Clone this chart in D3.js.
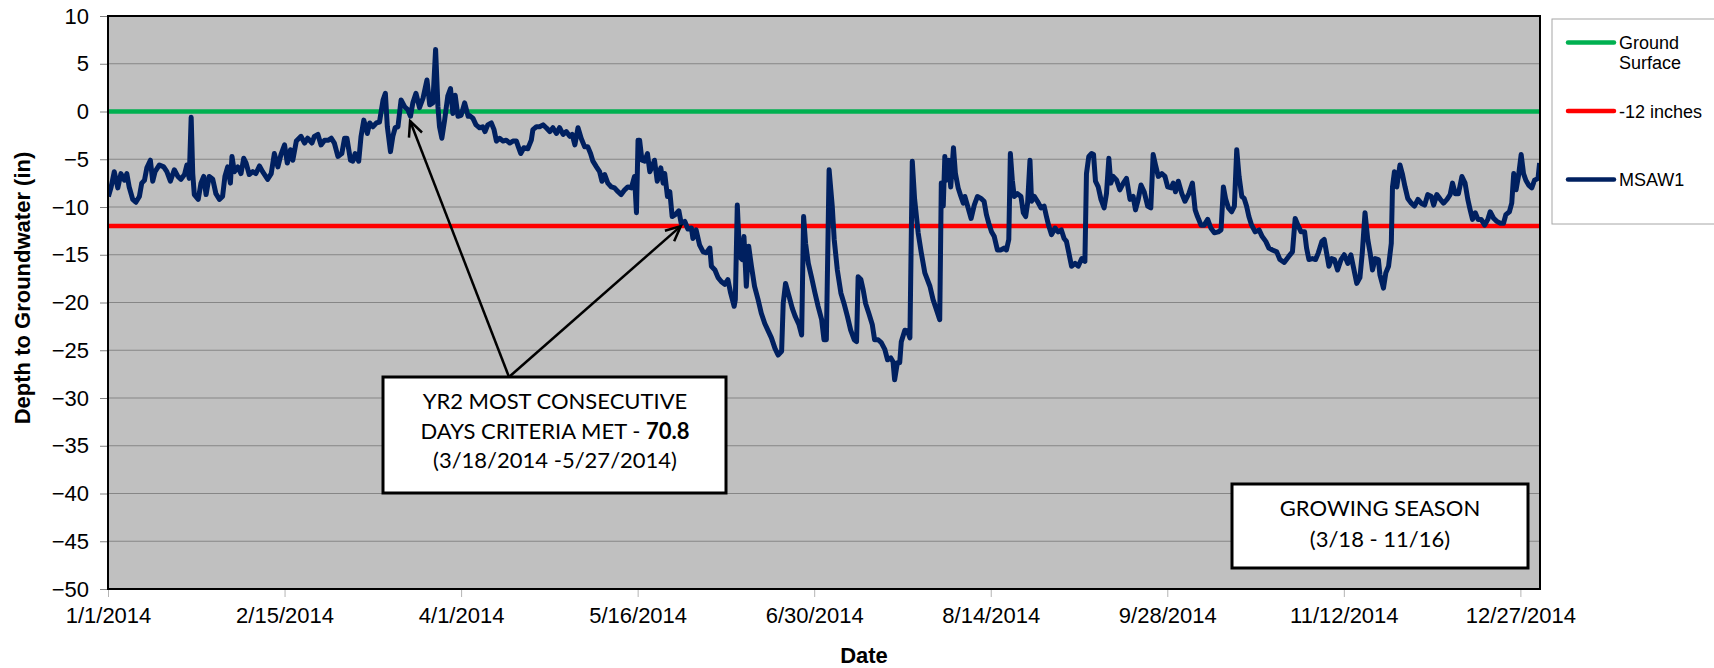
<!DOCTYPE html>
<html>
<head>
<meta charset="utf-8">
<script src="https://cdnjs.cloudflare.com/ajax/libs/d3/7.8.5/d3.min.js"></script>
<style>
	body { margin: 0; background: #fff; }
	svg { display: block; font-family: "Liberation Sans", Arial, sans-serif; }
	.axis text { font-size: 22px; fill: #000; }
	.axis .domain { display: none; }
	.y.axis line { stroke: #808080; }
	.x.axis line { stroke: #b4b4b4; }
	.grid line { stroke: #868686; stroke-width: 1; }
	.title { font-size: 22px; font-weight: bold; }
	.note text { font-family: Lato, "Open Sans", sans-serif; font-size: 22px; fill: #000; }
	.legend text { font-size: 18px; fill: #000; }
</style>
</head>
<body>
<div id="chart"></div>
<script>
// tick labels
var xTickLabels = ["1/1/2014", "2/15/2014", "4/1/2014", "5/16/2014", "6/30/2014",
	"8/14/2014", "9/28/2014", "11/12/2014", "12/27/2014"];
var yTicks = [10, 5, 0, -5, -10, -15, -20, -25, -30, -35, -40, -45, -50];

// reference levels (inches)
var groundSurface = 0;
var criteriaLevel = -12;
var seriesNames = ["Ground Surface", "-12 inches", "MSAW1"];

// MSAW1 readings: days after 1/1/2014 and depth to groundwater (in)
var readingDay = [
	0.1, 0.8, 1.6, 2.5, 3.3, 4.2, 4.8, 5.4, 6.3, 7.1, 8.0, 8.6, 9.3, 9.9, 10.8, 11.4, 12.0, 13.1, 14.2, 15.0,
	15.9, 16.9, 17.8, 18.6, 19.5, 20.1, 20.7, 21.2, 21.6, 22.0, 23.0, 23.7, 24.4, 25.0, 25.8, 26.7, 27.5, 28.4, 29.2, 29.8,
	30.5, 31.2, 31.6, 32.2, 33.1, 33.9, 34.6, 35.2, 36.0, 36.9, 37.7, 38.6, 39.4, 40.7, 41.6, 42.4, 43.3, 44.1, 45.0, 45.7,
	46.5, 47.1, 48.0, 49.2, 50.1, 50.9, 52.0, 52.6, 53.5, 54.3, 55.2, 56.2, 56.9, 57.7, 58.6, 59.6, 60.3, 60.9, 61.8, 62.4,
	63.0, 63.9, 64.5, 65.2, 66.1, 66.7, 67.5, 68.4, 69.2, 70.1, 70.7, 71.2, 72.0, 72.6, 73.2, 73.9, 74.7, 75.6, 76.4, 77.1,
	77.7, 78.5, 79.4, 80.3, 81.3, 82.0, 82.8, 83.5, 84.1, 84.5, 85.1, 85.8, 86.6, 87.3, 87.9, 88.5, 89.2, 90.0, 90.9, 91.8,
	92.1, 93.0, 93.8, 94.7, 95.5, 96.1, 96.8, 97.7, 98.4, 99.0, 99.8, 100.7, 101.5, 102.4, 103.2, 104.1, 104.6, 105.2, 106.0, 107.0,
	107.9, 108.3, 109.2, 110.0, 110.9, 111.7, 112.6, 113.4, 114.3, 115.1, 116.0, 116.8, 117.7, 118.3, 119.0, 119.8, 120.6, 121.5, 122.3, 123.0,
	123.6, 124.5, 125.3, 125.9, 126.6, 127.4, 128.3, 129.1, 130.0, 130.8, 131.7, 132.5, 133.4, 134.2, 134.7, 135.1, 135.5, 136.1, 136.8, 137.5,
	138.1, 138.7, 139.3, 140.0, 140.9, 141.5, 141.9, 142.6, 143.2, 143.8, 144.6, 145.5, 146.1, 147.0, 147.8, 148.7, 149.1, 149.9, 150.8, 151.7,
	152.5, 153.4, 153.8, 154.7, 155.5, 156.3, 157.2, 158.0, 158.7, 159.6, 159.9, 160.4, 161.0, 161.6, 162.1, 162.7, 163.3, 164.0, 164.8, 165.7,
	166.5, 167.4, 168.3, 169.1, 170.0, 170.8, 171.7, 172.1, 172.7, 173.5, 174.4, 175.2, 176.1, 176.8, 177.3, 177.8, 178.5, 179.3, 180.2, 181.0,
	181.9, 182.5, 183.1, 183.8, 184.6, 185.1, 185.9, 186.8, 187.6, 188.5, 189.3, 190.2, 190.8, 191.2, 191.9, 192.5, 193.1, 193.9, 194.8, 195.4,
	196.3, 197.1, 198.0, 198.7, 199.5, 200.1, 200.5, 201.2, 201.8, 202.2, 203.1, 203.8, 204.4, 205.0, 205.6, 206.5, 207.3, 208.2, 209.5, 210.3,
	211.2, 212.0, 212.4, 212.9, 213.3, 213.7, 214.3, 214.8, 215.5, 216.0, 216.7, 217.4, 218.0, 218.4, 219.1, 220.0, 220.8, 221.6, 222.5, 223.3,
	223.9, 224.5, 225.2, 225.9, 226.7, 227.6, 228.4, 229.0, 229.6, 230.0, 230.5, 231.0, 231.8, 232.7, 233.3, 233.9, 234.4, 235.0, 235.4, 236.1,
	236.9, 237.8, 238.6, 239.2, 239.8, 240.5, 241.4, 242.2, 243.0, 243.7, 244.3, 244.9, 245.6, 246.5, 247.3, 248.2, 249.0, 249.4, 250.0, 250.7,
	251.2, 251.7, 252.4, 253.1, 253.9, 254.5, 255.1, 255.6, 256.2, 257.1, 257.9, 258.8, 259.6, 260.5, 261.3, 261.9, 262.6, 263.3, 264.1, 265.0,
	265.8, 266.4, 267.0, 267.7, 268.6, 269.4, 270.1, 271.0, 271.5, 272.1, 272.8, 273.7, 274.5, 275.5, 276.4, 277.1, 277.7, 278.6, 279.4, 280.3,
	281.1, 282.0, 283.0, 283.7, 284.3, 284.9, 285.6, 286.4, 287.1, 287.7, 288.3, 289.0, 289.6, 290.2, 290.8, 291.5, 292.4, 293.4, 294.2, 295.1,
	295.9, 296.8, 297.9, 298.7, 299.8, 300.9, 301.9, 302.6, 303.4, 304.1, 305.0, 305.5, 306.1, 307.0, 307.8, 308.5, 309.4, 310.0, 310.6, 311.2,
	311.9, 312.6, 313.4, 314.3, 315.1, 316.0, 316.8, 317.4, 318.3, 319.1, 319.7, 320.4, 321.1, 321.7, 322.3, 323.0, 323.8, 324.2, 325.1, 325.7,
	326.4, 327.1, 327.4, 327.9, 328.5, 329.3, 329.9, 330.6, 331.3, 332.2, 333.0, 333.9, 334.7, 335.6, 336.4, 337.3, 337.9, 338.7, 339.6, 340.4,
	341.3, 342.1, 342.7, 343.4, 344.2, 345.1, 345.9, 346.6, 347.2, 347.8, 348.5, 349.2, 350.0, 350.9, 351.7, 352.3, 353.2, 354.0, 354.9, 355.7,
	356.3, 357.2, 357.8, 358.3, 358.9, 359.5, 360.2, 360.8, 361.4, 362.1, 362.9, 363.6, 364.5, 364.9
];
var depthIn = [
	-8.9, -7.9, -6.3, -8.0, -6.5, -7.2, -6.5, -7.9, -9.2, -9.5, -8.9, -7.5, -7.2, -5.9, -5.1, -7.3, -6.3, -5.6, -5.8, -6.3,
	-7.3, -6.1, -6.8, -7.1, -6.6, -5.6, -7.0, -0.6, -6.5, -8.7, -9.2, -7.5, -6.8, -8.7, -6.8, -7.1, -8.6, -9.2, -8.9, -6.8,
	-5.8, -7.5, -4.7, -6.3, -5.8, -6.5, -4.9, -5.4, -6.6, -6.3, -6.5, -5.7, -6.3, -7.1, -6.5, -4.4, -5.8, -4.5, -3.5, -5.4,
	-4.0, -5.1, -3.1, -2.6, -3.3, -2.8, -3.3, -2.6, -2.4, -3.5, -3.0, -3.0, -2.8, -3.3, -4.7, -4.4, -2.8, -2.8, -5.1, -5.2,
	-4.4, -5.2, -2.6, -0.9, -2.3, -1.2, -1.6, -1.2, -1.1, 1.2, 1.9, -1.6, -4.2, -2.6, -1.7, -1.6, 1.2, 0.5, 0.2, -0.5,
	0.9, 1.9, 0.4, 1.4, 3.3, 0.7, 0.9, 6.5, 0.5, -1.6, -2.8, -0.9, 1.6, 2.4, -0.2, 1.7, -0.5, -0.4, 0.9, -0.5,
	-0.4, -0.7, -1.4, -1.7, -1.6, -2.1, -1.4, -1.2, -1.9, -3.1, -2.8, -3.1, -3.0, -3.3, -3.1, -3.1, -3.7, -4.4, -3.8, -3.9,
	-3.0, -1.9, -1.6, -1.6, -1.4, -1.7, -2.1, -1.7, -2.3, -1.7, -2.4, -2.1, -2.6, -2.4, -3.5, -1.7, -2.8, -3.7, -3.7, -4.4,
	-5.2, -5.8, -6.3, -7.3, -6.6, -7.5, -7.9, -8.0, -8.4, -8.7, -8.2, -7.9, -8.0, -6.8, -10.6, -3.0, -3.0, -5.1, -5.2, -4.4,
	-6.3, -5.8, -5.1, -7.3, -5.9, -7.5, -6.5, -8.9, -8.4, -11.0, -10.8, -10.4, -11.7, -11.5, -12.3, -12.2, -13.3, -12.4, -14.0, -14.7,
	-14.8, -14.3, -16.2, -16.6, -17.4, -17.8, -18.1, -17.6, -19.0, -20.4, -19.7, -9.8, -15.2, -15.5, -13.1, -18.3, -14.1, -16.2, -18.3, -19.7,
	-21.1, -22.2, -23.0, -23.7, -24.8, -25.5, -25.1, -20.1, -18.0, -19.2, -20.6, -21.5, -22.3, -23.4, -11.0, -13.8, -15.9, -17.3, -19.0, -20.4,
	-21.8, -23.9, -23.9, -6.1, -9.9, -13.4, -16.6, -19.0, -20.1, -21.5, -22.9, -23.9, -24.1, -17.3, -17.6, -18.7, -20.1, -21.1, -22.3, -23.9,
	-23.9, -24.2, -24.9, -26.0, -25.8, -26.2, -28.1, -26.3, -26.3, -24.1, -22.9, -23.0, -23.7, -5.2, -9.2, -12.7, -14.8, -16.9, -18.3, -19.7,
	-20.8, -21.8, -7.5, -9.9, -4.7, -7.2, -5.1, -7.9, -3.8, -6.5, -8.0, -8.9, -9.6, -8.9, -9.9, -11.2, -9.8, -8.9, -9.1, -9.4,
	-10.8, -11.7, -12.6, -13.1, -14.5, -14.5, -14.3, -14.5, -13.4, -4.4, -7.2, -8.9, -8.6, -8.9, -10.6, -11.0, -9.6, -5.1, -9.4, -8.9,
	-9.4, -10.1, -9.9, -11.0, -12.0, -12.9, -12.2, -12.6, -12.4, -13.3, -13.6, -14.8, -16.2, -15.9, -16.2, -15.4, -15.7, -6.5, -4.7, -4.4,
	-4.5, -7.3, -7.9, -9.2, -10.1, -8.6, -4.9, -7.5, -6.8, -7.2, -8.2, -7.5, -7.0, -9.2, -8.9, -10.3, -9.2, -7.7, -8.4, -9.9,
	-10.1, -4.5, -5.6, -6.8, -6.5, -6.8, -7.9, -8.0, -7.5, -8.4, -7.3, -8.6, -9.4, -8.6, -7.5, -10.3, -11.0, -11.9, -11.9, -11.3,
	-12.2, -12.7, -12.6, -12.4, -7.9, -9.2, -10.1, -10.5, -9.9, -4.0, -6.8, -8.9, -9.1, -9.9, -11.0, -11.9, -12.6, -12.4, -13.1, -13.6,
	-14.3, -14.5, -14.7, -15.5, -15.8, -15.2, -14.7, -11.2, -12.0, -12.6, -12.6, -14.3, -15.5, -15.4, -15.5, -14.8, -13.6, -13.4, -14.8, -16.2,
	-15.4, -15.5, -16.6, -15.5, -15.0, -15.9, -15.0, -16.2, -18.0, -17.4, -14.8, -10.6, -13.4, -14.8, -16.6, -15.4, -15.5, -17.1, -18.5, -16.9,
	-16.2, -13.8, -7.9, -6.3, -7.9, -5.6, -6.5, -7.9, -9.1, -9.6, -9.9, -9.2, -9.6, -9.8, -8.7, -8.9, -9.8, -8.7, -9.2, -9.6,
	-9.2, -8.7, -7.5, -8.6, -8.6, -6.8, -7.5, -9.2, -10.3, -11.3, -10.6, -11.3, -11.3, -11.9, -11.3, -10.5, -11.2, -11.5, -11.7, -11.7,
	-10.8, -10.5, -9.6, -6.5, -8.2, -6.8, -4.5, -6.5, -7.2, -7.7, -8.0, -7.2, -7.0, -5.4
];

// annotation arrow targets
var arrowTargets = [["3/19/2014", -1.0], ["5/27/2014", -12.0]];

// layout and styles
var width = 1714, height = 668;
var plot = {left: 108, top: 16, right: 1540, bottom: 589};
var colors = {ground: "#00b050", criteria: "#ff0000", series: "#002060", plotBg: "#c0c0c0"};
var lineW = 4.5;

var parseDate = d3.utcParse("%m/%d/%Y");
var fmtDate = d3.utcFormat("%-m/%-d/%Y");
var start = parseDate("1/1/2014");
var end = parseDate("1/1/2015");

function dayToDate(d){
	return new Date(start.getTime() + d * 864e5);
}

var points = readingDay.map(function(d, i){
	return {date: dayToDate(d), value: depthIn[i]};
});

var x = d3.scaleUtc().domain([start, end]).range([plot.left, plot.right]);
var y = d3.scaleLinear().domain([-50, 10]).range([plot.bottom, plot.top]);

var svg = d3.select("#chart").append("svg")
	.attr("width", width)
	.attr("height", height);

svg.append("defs").append("clipPath")
	.attr("id", "clip")
	.append("rect")
	.attr("x", plot.left)
	.attr("y", plot.top)
	.attr("width", plot.right - plot.left)
	.attr("height", plot.bottom - plot.top);

svg.append("defs").append("marker")
	.attr("id", "arrow")
	.attr("markerUnits", "userSpaceOnUse")
	.attr("markerWidth", 22)
	.attr("markerHeight", 22)
	.attr("viewBox", "-2 -2 22 22")
	.attr("refX", 16)
	.attr("refY", 8)
	.attr("orient", "auto")
	.append("path")
	.attr("d", "M1,1 L16,8 L1,15")
	.attr("fill", "none")
	.attr("stroke", "#000")
	.attr("stroke-width", 2.5);

// plot background
svg.append("rect")
	.attr("x", plot.left)
	.attr("y", plot.top)
	.attr("width", plot.right - plot.left)
	.attr("height", plot.bottom - plot.top)
	.attr("fill", colors.plotBg);

// horizontal gridlines
svg.append("g")
	.attr("class", "grid")
	.selectAll("line")
	.data(yTicks)
	.enter().append("line")
	.attr("x1", plot.left)
	.attr("x2", plot.right)
	.attr("y1", function(d){ return y(d); })
	.attr("y2", function(d){ return y(d); });

// axes
var yAxis = svg.append("g")
	.attr("class", "y axis")
	.attr("transform", "translate(" + plot.left + ",0)")
	.call(d3.axisLeft(y).tickValues(yTicks).tickSize(8).tickPadding(11));

var xAxis = svg.append("g")
	.attr("class", "x axis")
	.attr("transform", "translate(0," + plot.bottom + ")")
	.call(d3.axisBottom(x)
		.tickValues(xTickLabels.map(parseDate))
		.tickSize(8)
		.tickPadding(10)
		.tickFormat(fmtDate));

// reference lines
var refs = [
	{value: groundSurface, color: colors.ground},
	{value: criteriaLevel, color: colors.criteria}
];
svg.append("g").selectAll("line")
	.data(refs)
	.enter().append("line")
	.attr("x1", plot.left)
	.attr("x2", plot.right)
	.attr("y1", function(d){ return y(d.value); })
	.attr("y2", function(d){ return y(d.value); })
	.attr("stroke", function(d){ return d.color; })
	.attr("stroke-width", lineW);

// the well series
var line = d3.line()
	.x(function(d){ return x(d.date); })
	.y(function(d){ return y(d.value); });

svg.append("path")
	.datum(points)
	.attr("clip-path", "url(#clip)")
	.attr("d", line)
	.attr("fill", "none")
	.attr("stroke", colors.series)
	.attr("stroke-width", 5)
	.attr("stroke-linejoin", "round");

// plot border
svg.append("rect")
	.attr("x", plot.left)
	.attr("y", plot.top)
	.attr("width", plot.right - plot.left)
	.attr("height", plot.bottom - plot.top)
	.attr("fill", "none")
	.attr("stroke", "#000")
	.attr("stroke-width", 2);

// axis titles
svg.append("text")
	.attr("class", "title")
	.attr("transform", "translate(30,288) rotate(-90)")
	.attr("text-anchor", "middle")
	.text("Depth to Groundwater (in)");

svg.append("text")
	.attr("class", "title")
	.attr("x", 864)
	.attr("y", 663)
	.attr("text-anchor", "middle")
	.text("Date");

// callout arrows, from the top of the note box
var arrowFrom = [509, 377];
svg.append("g").selectAll("line")
	.data(arrowTargets)
	.enter().append("line")
	.attr("x1", arrowFrom[0])
	.attr("y1", arrowFrom[1])
	.attr("x2", function(d){ return x(parseDate(d[0])); })
	.attr("y2", function(d){ return y(d[1]); })
	.attr("stroke", "#000")
	.attr("stroke-width", 2.5)
	.attr("marker-end", "url(#arrow)");

// note boxes
function noteBox(bx, by, bw, bh){
	var g = svg.append("g").attr("class", "note");
	g.append("rect")
		.attr("x", bx)
		.attr("y", by)
		.attr("width", bw)
		.attr("height", bh)
		.attr("fill", "#fff")
		.attr("stroke", "#000")
		.attr("stroke-width", 3);
	return g;
}

var note1 = noteBox(383, 377, 343, 116);
note1.append("text").attr("x", 555).attr("y", 409).attr("text-anchor", "middle")
	.text("YR2 MOST CONSECUTIVE");
var l2 = note1.append("text").attr("x", 555).attr("y", 439).attr("text-anchor", "middle");
l2.append("tspan").text("DAYS CRITERIA MET - ");
l2.append("tspan").attr("font-weight", "bold").text("70.8");
note1.append("text").attr("x", 555).attr("y", 468).attr("text-anchor", "middle")
	.text("(3/18/2014 -5/27/2014)");

var note2 = noteBox(1232, 484, 296, 84);
note2.append("text").attr("x", 1380).attr("y", 516).attr("text-anchor", "middle")
	.text("GROWING SEASON");
note2.append("text").attr("x", 1380).attr("y", 547).attr("text-anchor", "middle")
	.text("(3/18 - 11/16)");

// legend
var legend = svg.append("g").attr("class", "legend");
legend.append("rect")
	.attr("x", 1552)
	.attr("y", 19)
	.attr("width", 180)
	.attr("height", 205)
	.attr("fill", "#fff")
	.attr("stroke", "#a6a6a6")
	.attr("stroke-width", 1);

var legendRows = [
	{name: seriesNames[0], color: colors.ground, y: 42.5, lines: ["Ground", "Surface"]},
	{name: seriesNames[1], color: colors.criteria, y: 111, lines: [seriesNames[1]]},
	{name: seriesNames[2], color: colors.series, y: 179.5, lines: [seriesNames[2]]}
];

var row = legend.selectAll(".row")
	.data(legendRows)
	.enter().append("g")
	.attr("class", "row");

row.append("line")
	.attr("x1", 1568)
	.attr("x2", 1614)
	.attr("y1", function(d){ return d.y; })
	.attr("y2", function(d){ return d.y; })
	.attr("stroke", function(d){ return d.color; })
	.attr("stroke-width", lineW)
	.attr("stroke-linecap", "round");

row.append("text")
	.attr("x", 1619)
	.attr("y", function(d){ return d.y + 6.5; })
	.selectAll("tspan")
	.data(function(d){ return d.lines; })
	.enter().append("tspan")
	.attr("x", 1619)
	.attr("dy", function(d, i){ return i ? 20 : 0; })
	.text(function(d){ return d; });
</script>
</body>
</html>
